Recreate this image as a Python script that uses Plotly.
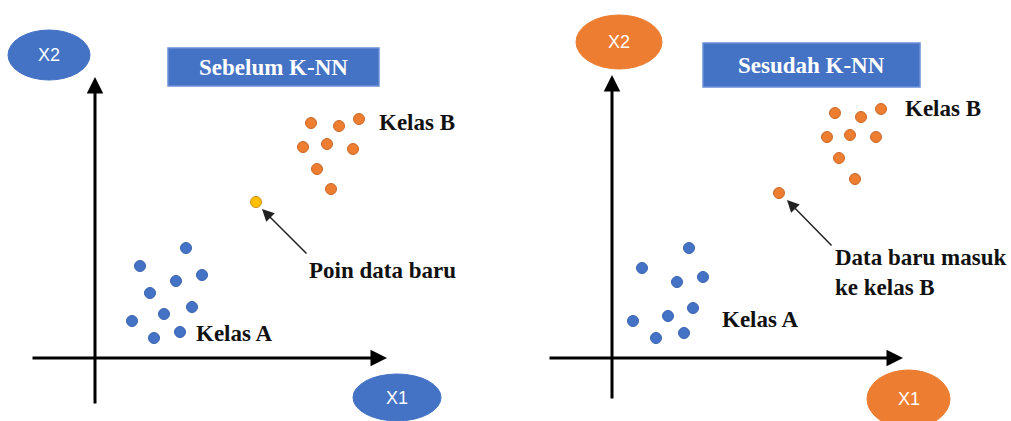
import plotly.graph_objects as go

# ---- data (X1, X2 values measured from each panel's origin) ----
before_a_x1 = [91, 45, 81, 107, 55, 97, 69, 37, 59, 85]
before_a_x2 = [110, 92, 77, 83, 65, 51, 44, 37, 20, 26]
before_b_x1 = [216, 244, 264, 208, 232, 258, 222, 236]
before_b_x2 = [235, 232, 239, 211, 214, 209, 189, 169]
before_new_x1 = [161]
before_new_x2 = [156]

after_a_x1 = [77, 30, 65, 91, 81, 56, 21, 44, 72]
after_a_x2 = [110, 90, 76, 81, 50, 42, 37, 20, 25]
after_b_x1 = [223, 249, 269, 215, 238, 264, 227, 243, 167]
after_b_x2 = [245, 241, 249, 221, 223, 221, 200, 179, 165]

titles = ["Sebelum K-NN", "Sesudah K-NN"]

BLUE = "#4472C4"
ORANGE = "#ED7D31"
YELLOW = "#FFC000"
SERIF = "Liberation Serif"
SANS = "Liberation Sans"

fig = go.Figure()

def dots(x, y, color, line, xa):
    fig.add_trace(go.Scatter(x=x, y=y, mode="markers", xaxis=xa, yaxis="y",
                             marker=dict(size=11, color=color, line=dict(color=line, width=1)),
                             hoverinfo="skip", showlegend=False))

dots(before_a_x1, before_a_x2, BLUE, "#3A64B0", "x")
dots(before_b_x1, before_b_x2, ORANGE, "#C8692A", "x")
dots(before_new_x1, before_new_x2, YELLOW, "#D08A10", "x")
dots(after_a_x1, after_a_x2, BLUE, "#3A64B0", "x2")
dots(after_b_x1, after_b_x2, ORANGE, "#C8692A", "x2")

shapes = []
anns = []

def panel(xr, yr, ell2, box, ell1, ecolor, title, xa):
    # axes with arrowheads
    for (x0, y0, x1, y1) in [(xr[0], 0, xr[1], 0), (0, yr[0], 0, yr[1])]:
        anns.append(dict(x=x1, y=y1, ax=x0, ay=y0, xref=xa, yref="y", axref=xa, ayref="y",
                         showarrow=True, arrowhead=2, arrowsize=1.1, arrowwidth=3,
                         arrowcolor="black", text=""))
    # ellipses
    for (e, lab) in [(ell2, "X2"), (ell1, "X1")]:
        shapes.append(dict(type="circle", xref=xa, yref="y", x0=e[0], x1=e[1], y0=e[2], y1=e[3],
                           fillcolor=ecolor, line=dict(color=ecolor, width=1), layer="below"))
        anns.append(dict(x=(e[0] + e[1]) / 2, y=(e[2] + e[3]) / 2, xref=xa, yref="y", text=lab,
                         showarrow=False, font=dict(family=SANS, size=18, color="white")))
    # title box
    shapes.append(dict(type="rect", xref=xa, yref="y", x0=box[0], x1=box[1], y0=box[2], y1=box[3],
                       fillcolor=BLUE, line=dict(color="#6A8FD6", width=1.5), layer="below"))
    anns.append(dict(x=(box[0] + box[1]) / 2, y=(box[2] + box[3]) / 2, xref=xa, yref="y",
                     text="<b>" + title + "</b>", showarrow=False,
                     font=dict(family=SERIF, size=23, color="white")))

panel((-64, 292), (-47, 281), (-87, -5, 278, 328), (73, 284, 272, 310), (258, 346, -63, -16),
      BLUE, titles[0], "x")
panel((-64, 291), (-42, 283), (-36, 50, 289, 343), (91, 308, 271, 315), (255, 338, -70, -12),
      ORANGE, titles[1], "x2")

def label(x, y, text, xa):
    anns.append(dict(x=x, y=y, xref=xa, yref="y", text="<b>" + text + "</b>", showarrow=False,
                     xanchor="left", align="left",
                     font=dict(family=SERIF, size=23, color="#111111")))

label(99, 25, "Kelas A", "x")
label(282, 236, "Kelas B", "x")
label(212, 88, "Poin data baru", "x")
label(108, 39, "Kelas A", "x2")
label(291, 250, "Kelas B", "x2")
label(221, 86, "Data baru masuk<br>ke kelas B", "x2")

# pointer arrows
anns.append(dict(x=167, y=149, ax=213, ay=103, xref="x", yref="y", axref="x", ayref="y",
                 showarrow=True, arrowhead=2, arrowsize=1.6, arrowwidth=1.5, arrowcolor="#222222", text=""))
anns.append(dict(x=175, y=158, ax=221, ay=111, xref="x2", yref="y", axref="x2", ayref="y",
                 showarrow=True, arrowhead=2, arrowsize=1.6, arrowwidth=1.5, arrowcolor="#222222", text=""))

ax_common = dict(visible=False, showgrid=False, zeroline=False, fixedrange=True)
fig.update_layout(
    width=1011, height=421,
    margin=dict(l=0, r=0, t=0, b=0),
    paper_bgcolor="white", plot_bgcolor="white",
    xaxis=dict(domain=[0, 0.5], range=[-95, 410.5], **ax_common),
    xaxis2=dict(domain=[0.5, 1], range=[-106.5, 399], **ax_common),
    yaxis=dict(domain=[0, 1], range=[-63, 358], **ax_common),
    shapes=shapes, annotations=anns,
)

fig.write_html("out.html", config={"displayModeBar": False, "staticPlot": True},
               post_script="document.body.style.margin='0';document.body.style.overflow='hidden';")
